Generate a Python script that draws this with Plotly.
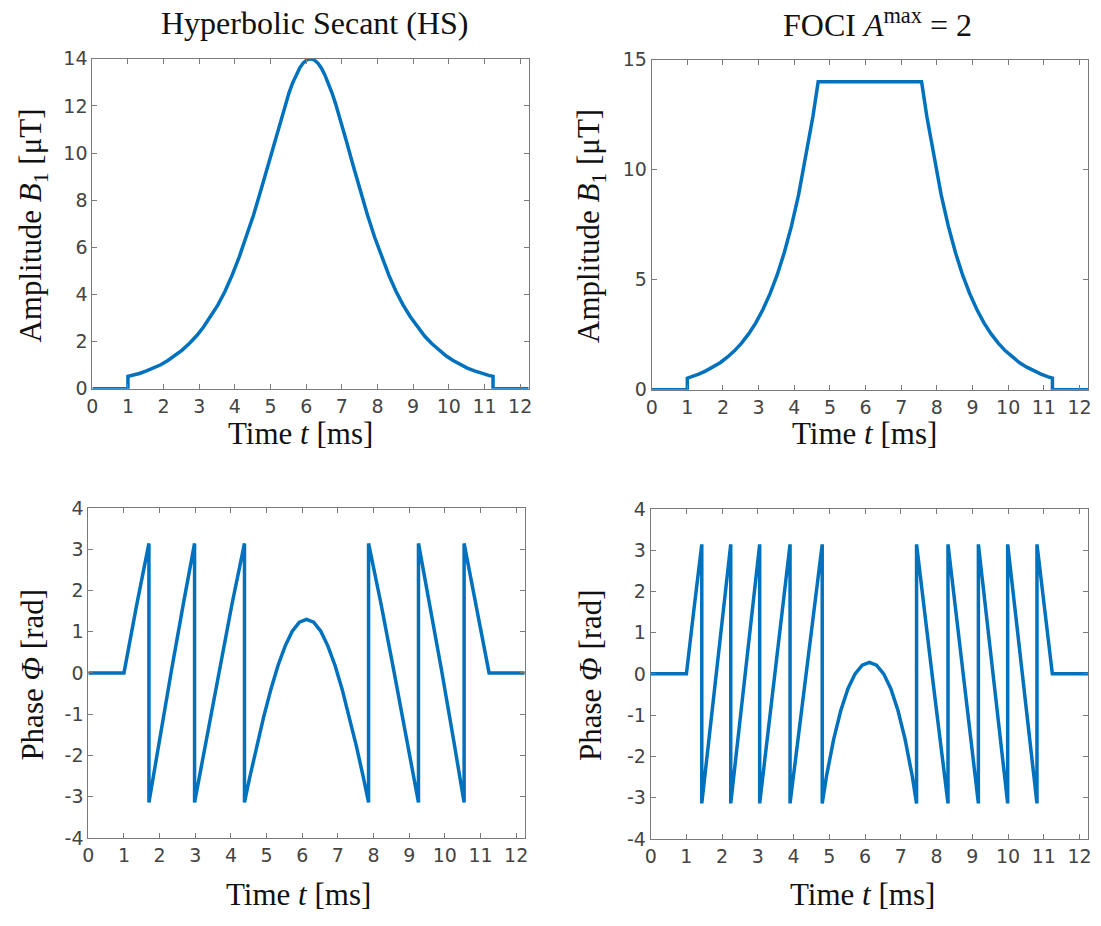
import plotly.graph_objects as go

# ---------------- data ----------------
hs_amp_t = [0, 1.0, 1.0, 1.12, 1.32, 1.52, 1.72, 1.92, 2.12, 2.32, 2.52, 2.72, 2.92, 3.12, 3.32,
            3.52, 3.72, 3.92, 4.12, 4.32, 4.52, 4.72, 4.92, 5.12, 5.22, 5.32, 5.42, 5.52, 5.62,
            5.72, 5.82, 5.92, 6.02, 6.12, 6.22, 6.32, 6.42, 6.52, 6.62, 6.72, 6.82, 6.92, 7.02,
            7.12, 7.32, 7.52, 7.72, 7.92, 8.12, 8.32, 8.52, 8.72, 8.92, 9.12, 9.32, 9.52, 9.72,
            9.92, 10.12, 10.32, 10.52, 10.72, 10.92, 11.12, 11.24, 11.24, 12.24]
hs_amp_v = [0, 0, 0.53, 0.57, 0.65, 0.76, 0.88, 1.02, 1.20, 1.40, 1.64, 1.92, 2.24, 2.62, 3.06,
            3.55, 4.13, 4.81, 5.59, 6.43, 7.36, 8.38, 9.45, 10.55, 11.09, 11.62, 12.11, 12.57, 12.98,
            13.33, 13.62, 13.83, 13.96, 14.0, 13.96, 13.83, 13.62, 13.33, 12.98, 12.57, 12.11, 11.62, 11.09,
            10.55, 9.45, 8.38, 7.36, 6.43, 5.59, 4.81, 4.13, 3.55, 3.06, 2.62, 2.24, 1.92, 1.64,
            1.40, 1.20, 1.02, 0.88, 0.76, 0.65, 0.57, 0.53, 0, 0]

foci_amp_t = [0, 1.0, 1.0, 1.12, 1.32, 1.52, 1.72, 1.92, 2.12, 2.32, 2.52, 2.72, 2.92, 3.12, 3.32,
              3.52, 3.72, 3.92, 4.12, 4.32, 4.52, 4.67, 7.57, 7.72, 7.92, 8.12, 8.32, 8.52, 8.72,
              8.92, 9.12, 9.32, 9.52, 9.72, 9.92, 10.12, 10.32, 10.52, 10.72, 10.92, 11.12, 11.24,
              11.24, 12.24]
foci_amp_v = [0, 0, 0.53, 0.59, 0.71, 0.86, 1.03, 1.23, 1.48, 1.77, 2.12, 2.54, 3.04, 3.65, 4.37,
              5.22, 6.24, 7.44, 8.86, 10.53, 12.40, 14.0, 14.0, 12.40, 10.53, 8.86, 7.44, 6.24, 5.22,
              4.37, 3.65, 3.04, 2.54, 2.12, 1.77, 1.48, 1.23, 1.03, 0.86, 0.71, 0.59, 0.53,
              0, 0]

hs_phase_t = [0, 1.0, 1.35, 1.70, 1.70, 2.02, 2.34, 2.66, 2.98, 2.98, 3.33, 3.68, 4.03, 4.38, 4.38,
              4.52, 4.72, 4.92, 5.12, 5.32, 5.52, 5.72, 5.92, 6.12, 6.32, 6.52, 6.72, 6.92, 7.12,
              7.32, 7.52, 7.72, 7.86, 7.86, 8.21, 8.56, 8.91, 9.26, 9.26, 9.58, 9.90, 10.22, 10.54,
              10.54, 10.89, 11.24, 12.24]
hs_phase_v = [0, 0, 1.62, 3.14, -3.14, -1.50, 0.10, 1.65, 3.14, -3.14, -1.51, 0.09, 1.67, 3.14, -3.14,
              -2.56, -1.78, -1.06, -0.40, 0.18, 0.65, 1.01, 1.23, 1.30, 1.23, 1.01, 0.65, 0.18, -0.40,
              -1.06, -1.78, -2.56, -3.14, 3.14, 1.67, 0.09, -1.51, -3.14, 3.14, 1.65, 0.10, -1.50, -3.14,
              3.14, 1.62, 0, 0]

foci_phase_t = [0, 1.0, 1.215, 1.43, 1.43, 1.835, 2.24, 2.24, 2.645, 3.05, 3.05, 3.475, 3.90, 3.90,
                4.35, 4.80, 4.80, 4.92, 5.12, 5.32, 5.52, 5.72, 5.92, 6.12, 6.32, 6.52, 6.72, 6.92,
                7.12, 7.32, 7.44, 7.44, 7.88, 8.32, 8.32, 8.745, 9.17, 9.17, 9.58, 9.99, 9.99, 10.40,
                10.81, 10.81, 11.025, 11.24, 12.24]
foci_phase_v = [0, 0, 1.60, 3.14, -3.14, 0.05, 3.14, -3.14, 0.05, 3.14, -3.14, 0.05, 3.14, -3.14,
                0.05, 3.14, -3.14, -2.48, -1.59, -0.89, -0.36, 0.0, 0.21, 0.28, 0.21, 0.0, -0.36, -0.89,
                -1.59, -2.48, -3.14, 3.14, -0.05, -3.14, 3.14, -0.05, -3.14, 3.14, -0.05, -3.14, 3.14, -0.05,
                -3.14, 3.14, 1.60, 0, 0]

x_ticks = list(range(0, 13))
amp_hs_ticks = [0, 2, 4, 6, 8, 10, 12, 14]
amp_foci_ticks = [0, 5, 10, 15]
phase_ticks = [-4, -3, -2, -1, 0, 1, 2, 3, 4]
phase_ticklabels = ["-4", "-3", "-2", "-1", "0", "1", "2", "3", "4"]

# ---------------- figure ----------------
W, H = 1101, 926
LINE = "#0072BD"
AX = "#7a7a7a"
TICKFONT = dict(family="DejaVu Sans", size=19, color="#444444")
SERIF = "Liberation Serif"


def px_x(p):
    return p / W


def px_y(p):
    return 1 - p / H


fig = go.Figure()

panels = [
    # (x-left, x-right, y-top, y-bottom) in pixels
    (87, 527, 49, 387),
    (651, 1091, 50, 388),
    (83, 523, 509, 847),
    (650, 1091, 510, 848),
]
series = [(hs_amp_t, hs_amp_v), (foci_amp_t, foci_amp_v),
          (hs_phase_t, hs_phase_v), (foci_phase_t, foci_phase_v)]

for i, ((t, v), (xl, xr, yt, yb)) in enumerate(zip(series, panels)):
    k = "" if i == 0 else str(i + 1)
    fig.add_trace(go.Scatter(x=t, y=v, mode="lines", line=dict(color=LINE, width=3.5),
                             xaxis="x" + k, yaxis="y" + k, showlegend=False,
                             hoverinfo="skip"))
    common = dict(showline=True, linecolor=AX, linewidth=1, mirror="ticks",
                  ticks="inside", ticklen=5, tickcolor=AX, tickwidth=1,
                  showgrid=False, zeroline=False, tickfont=TICKFONT)
    fig.layout["xaxis" + k] = dict(domain=[px_x(xl), px_x(xr)], anchor="y" + k,
                                   range=[0, 12.24], tickvals=x_ticks, **common)
    if i == 0:
        yax = dict(range=[0, 14], tickvals=amp_hs_ticks)
    elif i == 1:
        yax = dict(range=[0, 15], tickvals=amp_foci_ticks)
    else:
        yax = dict(range=[-4, 4], tickvals=phase_ticks, ticktext=phase_ticklabels)
    fig.layout["yaxis" + k] = dict(domain=[px_y(yb), px_y(yt)], anchor="x" + k,
                                   **yax, **common)

ann = []


def add_text(txt, x, y, size, angle=0):
    ann.append(dict(text=txt, x=px_x(x), y=px_y(y), xref="paper", yref="paper",
                    showarrow=False, xanchor="center", yanchor="middle", textangle=angle,
                    font=dict(family=SERIF, size=size, color="#111111")))


add_text("Hyperbolic Secant (HS)", 311, 12, 32)
add_text("FOCI <i>A</i><sup>max</sup> = 2", 879, 12, 32)
add_text("Time <i>t</i> [ms]", 297, 433, 31)
add_text("Time <i>t</i> [ms]", 866, 433, 31)
add_text("Time <i>t</i> [ms]", 295, 905, 31)
add_text("Time <i>t</i> [ms]", 864, 905, 31)
add_text("Amplitude <i>B</i><sub>1</sub> [μT]", 27, 220, 31, -90)
add_text("Amplitude <i>B</i><sub>1</sub> [μT]", 590, 220, 31, -90)
add_text("Phase <i>Φ</i> [rad]", 27, 680, 31, -90)
add_text("Phase <i>Φ</i> [rad]", 590, 680, 31, -90)

fig.update_layout(width=W, height=H, margin=dict(l=0, r=0, t=0, b=0),
                  paper_bgcolor="white", plot_bgcolor="white", annotations=ann)

fig.write_html("out.html")
